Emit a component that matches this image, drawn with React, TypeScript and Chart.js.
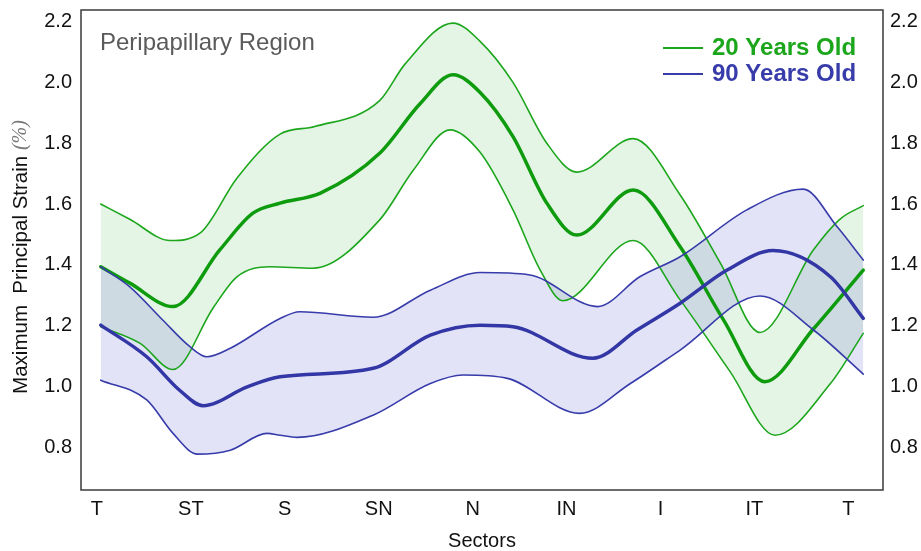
import React, { useEffect, useRef } from 'react';
import { Chart, registerables } from 'chart.js';

Chart.register(...registerables);

// Category labels (tick at each integer sector position)
const sectorLabels = ['T', 'ST', 'S', 'SN', 'N', 'IN', 'I', 'IT', 'T'];
const yTickValues = [0.8, 1.0, 1.2, 1.4, 1.6, 1.8, 2.0, 2.2];

// 20 years old — upper bound
const g20UpperX = [0.04, 0.35, 0.78, 1.10, 1.49, 1.95, 2.32, 3.01, 3.28, 3.79, 4.08, 4.43, 4.79, 5.11, 5.71, 6.21, 6.64, 7.06, 7.63, 7.91, 8.16];
const g20UpperY = [1.60, 1.55, 1.48, 1.505, 1.685, 1.83, 1.855, 1.94, 2.06, 2.195, 2.135, 2.00, 1.80, 1.705, 1.815, 1.63, 1.405, 1.178, 1.45, 1.55, 1.595];
// 20 years old — mean
const g20MeanX = [0.04, 0.35, 0.81, 1.31, 1.66, 1.95, 2.38, 3.01, 3.44, 3.79, 4.08, 4.43, 4.79, 5.11, 5.71, 6.21, 6.67, 7.11, 7.63, 8.16];
const g20MeanY = [1.394, 1.34, 1.263, 1.45, 1.57, 1.603, 1.636, 1.767, 1.93, 2.025, 1.967, 1.822, 1.603, 1.498, 1.646, 1.46, 1.22, 1.016, 1.19, 1.383];
// 20 years old — lower bound
const g20LowerX = [0.04, 0.46, 0.81, 1.24, 1.49, 1.84, 2.30, 3.01, 3.37, 3.76, 4.08, 4.43, 4.72, 4.96, 5.71, 6.21, 6.74, 7.22, 7.81, 8.16];
const g20LowerY = [1.197, 1.142, 1.056, 1.26, 1.361, 1.394, 1.389, 1.548, 1.712, 1.844, 1.77, 1.581, 1.383, 1.282, 1.48, 1.285, 1.05, 0.84, 1.01, 1.175];

// 90 years old — upper bound
const o90UpperX = [0.04, 0.35, 0.70, 0.99, 1.17, 1.42, 1.95, 2.16, 2.94, 3.55, 4.08, 4.61, 5.33, 5.78, 6.21, 6.92, 7.52, 7.88, 8.16];
const o90UpperY = [1.394, 1.328, 1.219, 1.131, 1.098, 1.126, 1.224, 1.246, 1.228, 1.317, 1.375, 1.367, 1.263, 1.361, 1.427, 1.581, 1.649, 1.526, 1.416];
// 90 years old — mean
const o90MeanX = [0.04, 0.53, 0.88, 1.13, 1.60, 1.95, 2.94, 3.55, 4.08, 4.43, 5.28, 5.75, 6.21, 6.71, 7.20, 7.81, 8.16];
const o90MeanY = [1.202, 1.098, 0.988, 0.937, 0.999, 1.032, 1.06, 1.169, 1.202, 1.197, 1.093, 1.186, 1.274, 1.383, 1.447, 1.361, 1.224];
// 90 years old — lower bound
const o90LowerX = [0.04, 0.53, 0.81, 1.07, 1.42, 1.81, 1.95, 2.13, 2.94, 3.55, 3.90, 4.37, 5.14, 5.68, 6.21, 7.06, 7.63, 8.16];
const o90LowerY = [1.021, 0.956, 0.846, 0.778, 0.791, 0.846, 0.840, 0.833, 0.906, 1.010, 1.038, 1.027, 0.912, 1.010, 1.120, 1.298, 1.186, 1.041];

const GREEN = 'rgb(28,166,28)';
const GREEN_DARK = 'rgb(14,155,14)';
const GREEN_FILL = 'rgba(40,170,40,0.12)';
const BLUE = 'rgb(55,60,170)';
const BLUE_DARK = 'rgb(50,55,165)';
const BLUE_FILL = 'rgba(70,70,210,0.15)';
const FONT = 'Arial, "Liberation Sans", Helvetica, sans-serif';

const toPts = (xs: number[], ys: number[]) => xs.map((x, i) => ({ x, y: ys[i] }));

const overlayPlugin = {
  id: 'overlay',
  afterDraw(chart: any) {
    const { ctx, chartArea } = chart;
    ctx.save();
    // frame
    ctx.strokeStyle = '#3a3a3a';
    ctx.lineWidth = 1.5;
    ctx.strokeRect(chartArea.left, chartArea.top, chartArea.right - chartArea.left, chartArea.bottom - chartArea.top);
    // title inside plot
    ctx.fillStyle = '#5a5a5a';
    ctx.font = `24px ${FONT}`;
    ctx.textBaseline = 'middle';
    ctx.textAlign = 'left';
    ctx.fillText('Peripapillary Region', chartArea.left + 19, chartArea.top + 33);
    // legend
    const items = [
      { text: '20 Years Old', color: GREEN },
      { text: '90 Years Old', color: BLUE },
    ];
    items.forEach((it, i) => {
      const y = chartArea.top + 38 + i * 26;
      ctx.strokeStyle = it.color;
      ctx.lineWidth = 2;
      ctx.beginPath();
      ctx.moveTo(chartArea.right - 220, y);
      ctx.lineTo(chartArea.right - 180, y);
      ctx.stroke();
      ctx.fillStyle = it.color;
      ctx.font = `bold 24px ${FONT}`;
      ctx.fillText(it.text, chartArea.right - 171, y);
    });
    // y axis title (rotated), with a lighter italic unit
    const part1 = 'Maximum  Principal Strain ';
    const part2 = '(%)';
    const f1 = `20.5px ${FONT}`;
    const f2 = `italic 20px "Liberation Serif", "DejaVu Serif", serif`;
    ctx.font = f1;
    const w1 = ctx.measureText(part1).width;
    ctx.font = f2;
    const w2 = ctx.measureText(part2).width;
    const total = w1 + w2;
    const cy = (chartArea.top + chartArea.bottom) / 2 + 7;
    ctx.translate(21, cy);
    ctx.rotate(-Math.PI / 2);
    ctx.textBaseline = 'middle';
    ctx.textAlign = 'left';
    ctx.font = f1;
    ctx.fillStyle = '#111';
    ctx.fillText(part1, -total / 2, 0);
    ctx.font = f2;
    ctx.fillStyle = '#777';
    ctx.fillText(part2, -total / 2 + w1, 0);
    ctx.restore();
  },
};

const noPad = (s: any) => { s.paddingTop = 0; s.paddingBottom = 0; s.paddingLeft = 0; s.paddingRight = 0; };

export default function App() {
  const ref = useRef<HTMLCanvasElement | null>(null);

  useEffect(() => {
    document.body.style.margin = '0';
    if (!ref.current) return;
    const tickFont = { family: FONT, size: 20 };
    const chart = new Chart(ref.current, {
      type: 'line',
      data: {
        datasets: [
          { label: '90 upper', data: toPts(o90UpperX, o90UpperY), borderColor: BLUE, borderWidth: 1.6, backgroundColor: BLUE_FILL, fill: 1, pointRadius: 0 },
          { label: '90 lower', data: toPts(o90LowerX, o90LowerY), borderColor: BLUE, borderWidth: 1.6, fill: false, pointRadius: 0 },
          { label: '90 mean', data: toPts(o90MeanX, o90MeanY), borderColor: BLUE_DARK, borderWidth: 3.5, fill: false, pointRadius: 0 },
          { label: '20 upper', data: toPts(g20UpperX, g20UpperY), borderColor: GREEN, borderWidth: 1.6, backgroundColor: GREEN_FILL, fill: 4, pointRadius: 0 },
          { label: '20 lower', data: toPts(g20LowerX, g20LowerY), borderColor: GREEN, borderWidth: 1.6, fill: false, pointRadius: 0 },
          { label: '20 mean', data: toPts(g20MeanX, g20MeanY), borderColor: GREEN_DARK, borderWidth: 3.5, fill: false, pointRadius: 0 },
        ] as any,
      },
      options: {
        animation: false,
        responsive: true,
        maintainAspectRatio: false,
        parsing: false as any,
        elements: { line: { cubicInterpolationMode: 'monotone', borderCapStyle: 'round', borderJoinStyle: 'round' } },
        layout: { padding: { top: 10, left: 0, right: 0, bottom: 0 } },
        plugins: {
          legend: { display: false },
          tooltip: { enabled: false },
          filler: { drawTime: 'beforeDatasetsDraw' } as any,
        },
        scales: {
          x: {
            type: 'linear',
            min: -0.17,
            max: 8.37,
            grid: { display: false, drawTicks: false },
            border: { display: false },
            afterBuildTicks: (s: any) => { s.ticks = sectorLabels.map((_, i) => ({ value: i })); },
            afterFit: (s: any) => { s.height = 61; noPad(s); },
            ticks: {
              color: '#111',
              font: tickFont,
              padding: 7,
              maxRotation: 0,
              autoSkip: false,
              callback: (v: any) => sectorLabels[Math.round(Number(v))] ?? '',
            },
            title: { display: true, text: 'Sectors', color: '#111', font: { family: FONT, size: 20, lineHeight: 1 }, padding: { top: 0, bottom: 0 } },
          },
          y: {
            type: 'linear',
            position: 'left',
            min: 0.66,
            max: 2.238,
            grid: { display: false, drawTicks: false },
            border: { display: false },
            afterBuildTicks: (s: any) => { s.ticks = yTickValues.map((v) => ({ value: v })); },
            afterFit: (s: any) => { s.width = 81; noPad(s); },
            ticks: { color: '#111', font: tickFont, padding: 9, callback: (v: any) => Number(v).toFixed(1) },
            title: { display: false },
          },
          y2: {
            type: 'linear',
            position: 'right',
            display: true,
            min: 0.66,
            max: 2.238,
            grid: { display: false, drawTicks: false },
            border: { display: false },
            afterBuildTicks: (s: any) => { s.ticks = yTickValues.map((v) => ({ value: v })); },
            afterFit: (s: any) => { s.width = 38; noPad(s); },
            ticks: { color: '#111', font: tickFont, padding: 7, callback: (v: any) => Number(v).toFixed(1) },
          },
        },
      } as any,
      plugins: [overlayPlugin],
    });
    return () => chart.destroy();
  }, []);

  return (
    <div style={{ position: 'relative', width: 921, height: 551, background: '#fff' }}>
      <canvas ref={ref} />
    </div>
  );
}
